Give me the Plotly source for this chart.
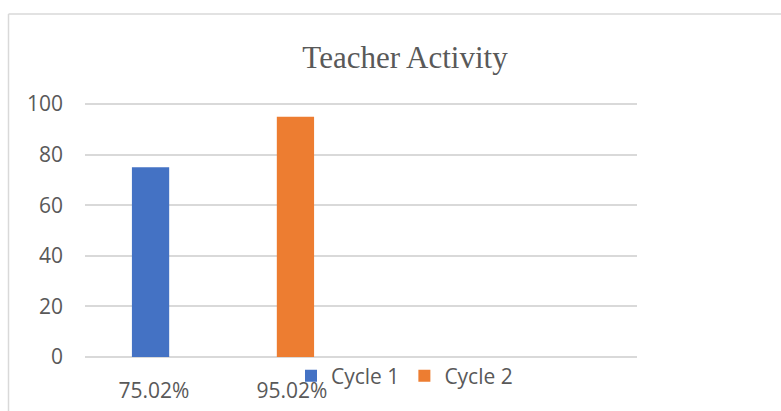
import plotly.graph_objects as go

categories = ["75.02%", "95.02%"]
series_names = ["Cycle 1", "Cycle 2"]
cycle1_values = [75]
cycle2_values = [95]
y_ticks = [0, 20, 40, 60, 80, 100]

BLUE = "#4472C4"
ORANGE = "#ED7D31"
TEXT = "#595959"
GRID = "#D9D9D9"

fig = go.Figure()
fig.add_trace(go.Bar(x=[categories[0]], y=cycle1_values, name=series_names[0],
                     marker=dict(color=BLUE, line=dict(width=0)), width=0.27, offset=-0.16))
fig.add_trace(go.Bar(x=[categories[1]], y=cycle2_values, name=series_names[1],
                     marker=dict(color=ORANGE, line=dict(width=0)), width=0.27, offset=-0.11))

W, H = 781, 411
# y range padded by 2 units on each side: 0 -> 357px, 100 -> 104px
L, R, T, B = 85, 637, 99, 362
pw, ph = R - L, B - T

def px_x(p):
    return (p - L) / pw

def px_y(p):
    return (B - p) / ph

fig.update_layout(
    width=W, height=H,
    margin=dict(l=L, r=W - R, t=T, b=H - B, pad=0, autoexpand=False),
    paper_bgcolor="white", plot_bgcolor="white",
    barmode="overlay",
    title=dict(text="Teacher Activity", x=405 / W, xanchor="center",
               y=1 - 57 / H, yanchor="middle", yref="container",
               font=dict(family="Liberation Serif", size=31, color=TEXT)),
    font=dict(family="Open Sans", size=21, color=TEXT),
    showlegend=True,
    legend=dict(orientation="h", x=px_x(291), xanchor="left",
                y=px_y(376), yanchor="middle", bgcolor="rgba(0,0,0,0)",
                font=dict(family="Open Sans", size=21, color=TEXT),
                itemwidth=30, traceorder="normal"),
    xaxis=dict(type="category", categoryorder="array", categoryarray=categories,
               range=[-0.5, 3.5], showgrid=False, zeroline=False, showline=False,
               ticks="", ticklabelstandoff=14, fixedrange=True,
               tickfont=dict(family="Open Sans", size=21, color=TEXT)),
    yaxis=dict(range=[-2, 102], tickvals=y_ticks, showgrid=True, gridcolor=GRID,
               gridwidth=1.5, zeroline=False, showline=False, ticks="",
               ticklabelstandoff=21, fixedrange=True,
               tickfont=dict(family="Open Sans", size=21, color=TEXT)),
    shapes=[
        dict(type="line", xref="paper", yref="paper", x0=px_x(8.5), x1=px_x(W + 20),
             y0=px_y(14), y1=px_y(14), line=dict(color=GRID, width=1.5), layer="below"),
        dict(type="line", xref="paper", yref="paper", x0=px_x(8.5), x1=px_x(8.5),
             y0=px_y(14), y1=px_y(H + 20), line=dict(color=GRID, width=1.5), layer="below"),
    ],
)

fig.write_html("out.html", config={"displayModeBar": False},
               post_script="document.body.style.margin='0';document.body.style.padding='0';")
